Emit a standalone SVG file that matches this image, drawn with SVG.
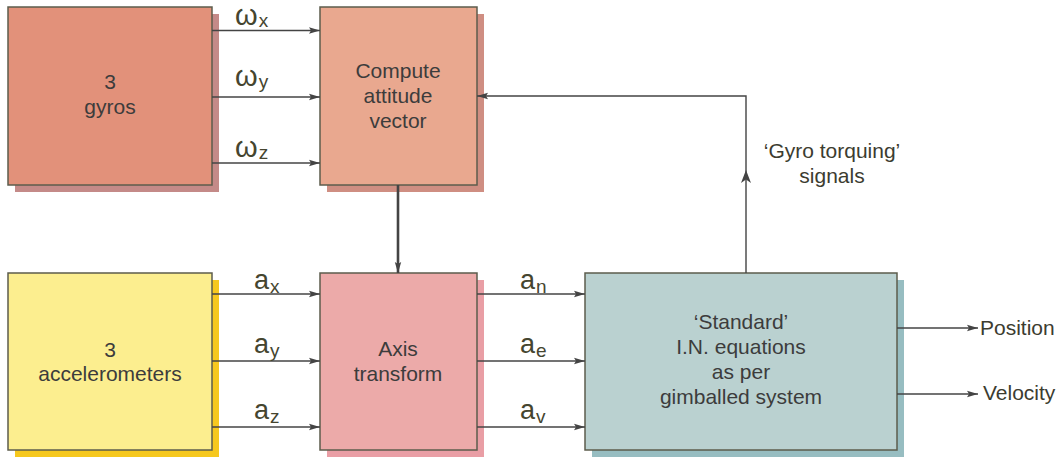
<svg xmlns="http://www.w3.org/2000/svg" width="1060" height="458" viewBox="0 0 1060 458">
<defs>
<marker id="arr" markerWidth="11" markerHeight="8" refX="11" refY="4" orient="auto" markerUnits="userSpaceOnUse">
<path d="M0,0.8 L11,4 L0,7.2 L2,4 Z" fill="#444"/>
</marker>
</defs>
<style>
.box{stroke:#5c5c4c;stroke-width:1.5}
.t{font-family:"Liberation Sans",Arial,sans-serif;font-size:21px;fill:#3c3c3c;text-anchor:middle}
.lbl{font-family:"Liberation Sans",Arial,sans-serif;fill:#45452f}
.w{font-size:29px}
.a{font-size:27px}
.sub{font-size:19px}
.out{font-family:"Liberation Sans",Arial,sans-serif;font-size:21px;fill:#3c3c30}
.c{fill:none;stroke:#444;stroke-width:1.4}
</style>
<rect width="1060" height="458" fill="#ffffff"/>

<g id="gyros">
<rect x="15" y="14" width="204" height="178" fill="#c48a88"/>
<rect class="box" x="8" y="7" width="204" height="178" fill="#e2917a"/>
<text class="t" x="110" y="89">3</text>
<text class="t" x="110" y="114">gyros</text>
</g>

<g id="compute">
<rect x="327" y="14" width="157" height="178" fill="#cf8e82"/>
<rect class="box" x="320" y="7" width="157" height="178" fill="#e9a88f"/>
<text class="t" x="398" y="78">Compute</text>
<text class="t" x="398" y="103">attitude</text>
<text class="t" x="398" y="128">vector</text>
</g>

<g id="accelerometers">
<rect x="15" y="280" width="204" height="177" fill="#f6c81e"/>
<rect class="box" x="8" y="273" width="204" height="177" fill="#fcee8f"/>
<text class="t" x="110" y="357">3</text>
<text class="t" x="110" y="381">accelerometers</text>
</g>

<g id="axis">
<rect x="327" y="280" width="157" height="177" fill="#e99ea5"/>
<rect class="box" x="320" y="273" width="157" height="177" fill="#ecaaa9"/>
<text class="t" x="398" y="356">Axis</text>
<text class="t" x="398" y="381">transform</text>
</g>

<g id="standard">
<rect x="592" y="280" width="312" height="177" fill="#97bdc1"/>
<rect class="box" x="585" y="273" width="312" height="177" fill="#bad1d0"/>
<text class="t" x="741" y="329">‘Standard’</text>
<text class="t" x="741" y="354">I.N. equations</text>
<text class="t" x="741" y="379">as per</text>
<text class="t" x="741" y="404">gimballed system</text>
</g>

<g id="connectors">
<line class="c" x1="212" y1="30.5" x2="320" y2="30.5" marker-end="url(#arr)"/>
<line class="c" x1="212" y1="97" x2="320" y2="97" marker-end="url(#arr)"/>
<line class="c" x1="212" y1="163" x2="320" y2="163" marker-end="url(#arr)"/>
<line x1="398" y1="185" x2="398" y2="273" stroke="#444" stroke-width="2.6" marker-end="url(#arr)"/>
<line class="c" x1="212" y1="294" x2="320" y2="294" marker-end="url(#arr)"/>
<line class="c" x1="212" y1="361" x2="320" y2="361" marker-end="url(#arr)"/>
<line class="c" x1="212" y1="427" x2="320" y2="427" marker-end="url(#arr)"/>
<line class="c" x1="477" y1="294" x2="585" y2="294" marker-end="url(#arr)"/>
<line class="c" x1="477" y1="361" x2="585" y2="361" marker-end="url(#arr)"/>
<line class="c" x1="477" y1="427" x2="585" y2="427" marker-end="url(#arr)"/>
<line class="c" x1="897" y1="328" x2="978" y2="328" marker-end="url(#arr)"/>
<line class="c" x1="897" y1="394" x2="978" y2="394" marker-end="url(#arr)"/>
<path class="c" d="M746,273 V96 H477" marker-end="url(#arr)"/>
<path d="M746,170 L741,183 L746,179.5 L751,183 Z" fill="#444"/>
</g>

<g id="labels">
<text class="lbl w" x="235" y="25">ω<tspan class="sub" dx="1" dy="2">x</tspan></text>
<text class="lbl w" x="235" y="86">ω<tspan class="sub" dx="1" dy="2">y</tspan></text>
<text class="lbl w" x="235" y="157">ω<tspan class="sub" dx="1" dy="2">z</tspan></text>
<text class="lbl a" x="254" y="289">a<tspan class="sub" dx="1" dy="4">x</tspan></text>
<text class="lbl a" x="254" y="353">a<tspan class="sub" dx="1" dy="4">y</tspan></text>
<text class="lbl a" x="254" y="419">a<tspan class="sub" dx="1" dy="4">z</tspan></text>
<text class="lbl a" x="520" y="289">a<tspan class="sub" dx="1" dy="4">n</tspan></text>
<text class="lbl a" x="520" y="353">a<tspan class="sub" dx="1" dy="4">e</tspan></text>
<text class="lbl a" x="520" y="419">a<tspan class="sub" dx="1" dy="4">v</tspan></text>
<text class="out" x="832" y="158" text-anchor="middle">‘Gyro torquing’</text>
<text class="out" x="832" y="183" text-anchor="middle">signals</text>
<text class="out" x="980" y="335">Position</text>
<text class="out" x="983" y="400">Velocity</text>
</g>
</svg>
